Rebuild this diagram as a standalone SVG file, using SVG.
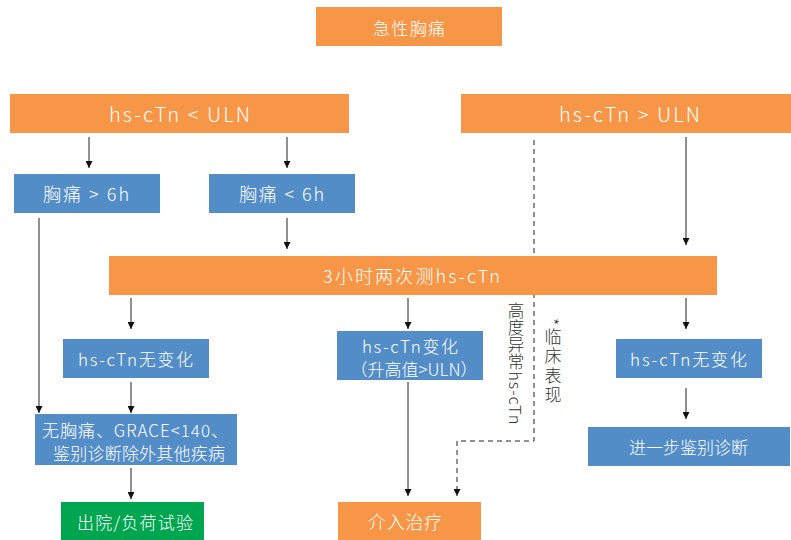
<svg xmlns="http://www.w3.org/2000/svg" width="791" height="540" viewBox="0 0 791 540">
<defs>
<marker id="ah" viewBox="0 0 10 10" refX="10" refY="5" markerWidth="7" markerHeight="7" markerUnits="userSpaceOnUse" orient="auto"><path d="M0,0 L10,5 L0,10 z" fill="#111"/></marker>
</defs>
<style>
.o{fill:#F79646}.b{fill:#538DC8}.g{fill:#00A550}
text{font-family:"Noto Sans CJK SC","Noto Sans",sans-serif;font-weight:300;fill:#fff;text-anchor:middle;dominant-baseline:central}
.ln{stroke:#222;stroke-width:1;fill:none;marker-end:url(#ah)}
.dl{stroke:#222;stroke-width:1;fill:none;stroke-dasharray:5,4;marker-end:url(#ah)}
.vt{fill:#333;writing-mode:vertical-rl;text-orientation:mixed;text-anchor:start;dominant-baseline:central}
</style>
<rect width="791" height="540" fill="#fff"/>
<g id="connectors">
<line class="ln" x1="89" y1="137" x2="89" y2="168"/>
<line class="ln" x1="287" y1="137" x2="287" y2="168"/>
<line class="ln" x1="39" y1="218" x2="39" y2="413"/>
<line class="ln" x1="287" y1="218" x2="287" y2="249"/>
<line class="ln" x1="131" y1="298" x2="131" y2="329"/>
<line class="ln" x1="131" y1="382" x2="131" y2="413"/>
<line class="ln" x1="131" y1="468" x2="131" y2="499"/>
<line class="ln" x1="408" y1="298" x2="408" y2="329"/>
<line class="ln" x1="408" y1="382" x2="408" y2="496"/>
<line class="ln" x1="686" y1="137" x2="686" y2="245"/>
<line class="ln" x1="686" y1="298" x2="686" y2="329"/>
<line class="ln" x1="686" y1="388" x2="686" y2="419"/>
<polyline class="dl" points="534,140 534,441 457,441 457,496"/>
</g>
<g id="n1"><rect class="o" x="316" y="7" width="186" height="39"/><text x="409" y="27" font-size="17" textLength="72" lengthAdjust="spacing">急性胸痛</text></g>
<g id="n2"><rect class="o" x="10" y="94" width="339" height="39"/><text x="179.5" y="113" font-size="20" textLength="141" lengthAdjust="spacing">hs-cTn &lt; ULN</text></g>
<g id="n3"><rect class="o" x="461" y="94" width="330" height="39"/><text x="629.5" y="113" font-size="20" textLength="141" lengthAdjust="spacing">hs-cTn &gt; ULN</text></g>
<g id="n4"><rect class="b" x="14" y="174" width="146" height="39"/><text x="86" y="193" font-size="18" textLength="86" lengthAdjust="spacing">胸痛 &gt; 6h</text></g>
<g id="n5"><rect class="b" x="209" y="174" width="146" height="39"/><text x="281.5" y="193" font-size="18" textLength="85" lengthAdjust="spacing">胸痛 &lt; 6h</text></g>
<g id="n6"><rect class="o" x="109" y="256" width="608" height="39"/><text x="411.5" y="275" font-size="18" textLength="177" lengthAdjust="spacing">3小时两次测hs-cTn</text></g>
<g id="n7"><rect class="b" x="63" y="339" width="146" height="39"/><text x="135.5" y="358" font-size="17" textLength="115" lengthAdjust="spacing">hs-cTn无变化</text></g>
<g id="n8"><rect class="b" x="337" y="331" width="146" height="49"/><text x="410" y="345" font-size="17" textLength="96" lengthAdjust="spacing">hs-cTn变化</text><text x="414" y="368" font-size="17">（升高值&gt;ULN）</text></g>
<g id="n9"><rect class="b" x="616" y="339" width="146" height="39"/><text x="688.5" y="358" font-size="17" textLength="117" lengthAdjust="spacing">hs-cTn无变化</text></g>
<g id="n10"><rect class="b" x="35" y="414" width="202" height="51"/><text x="135" y="429" font-size="17" textLength="186" lengthAdjust="spacing">无胸痛、GRACE&lt;140、</text><text x="139" y="452" font-size="17" textLength="172" lengthAdjust="spacing">鉴别诊断除外其他疾病</text></g>
<g id="n11"><rect class="b" x="588" y="427" width="202" height="39"/><text x="688.5" y="446" font-size="17" textLength="119" lengthAdjust="spacing">进一步鉴别诊断</text></g>
<g id="n12"><rect class="g" x="61" y="502" width="143" height="38"/><text x="135" y="521" font-size="17" textLength="116" lengthAdjust="spacing">出院/负荷试验</text></g>
<g id="n13"><rect class="o" x="338" y="502" width="143" height="38"/><text x="405" y="521" font-size="18" textLength="74" lengthAdjust="spacing">介入治疗</text></g>
<g id="labels">
<text class="vt" x="516" y="302" font-size="16.5" letter-spacing="0.8">高度异常hs-cTn</text>
<text class="vt" x="553" y="318" font-size="17" letter-spacing="2.5">*临床表现</text>
</g>
</svg>
